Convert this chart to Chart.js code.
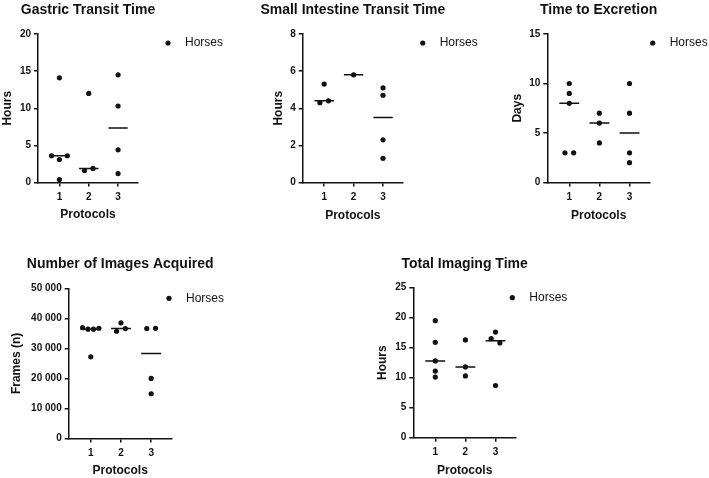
<!DOCTYPE html>
<html>
<head>
<meta charset="utf-8">
<script src="https://cdn.jsdelivr.net/npm/chart.js@4"></script>
<style>
  body { margin: 0; background: #fff; }
  #wrap { position: relative; width: 709px; height: 478px; overflow: hidden; background: #fff; }
  #wrap canvas { position: absolute; }
</style>
</head>
<body>
<div id="wrap"></div>
<script>
// categories (x axis)
const protocols = ['1', '2', '3'];
const seriesLabel = 'Horses';

// values per protocol
const gastricHours = [[14.1, 3.6, 3.1, 3.6, 0.4], [12.0, 1.6, 1.9], [14.5, 10.3, 4.4, 1.2]];
const smallIntestineHours = [[5.3, 4.3, 4.4], [5.8], [5.1, 4.7, 2.3, 1.3]];
const excretionDays = [[10, 9, 8, 3, 3], [7, 6, 4], [10, 7, 3, 2]];
const imageFrames = [[36900, 36400, 36400, 36700, 27200], [38500, 35700, 36600], [36600, 36700, 20000, 14900]];
const imagingHours = [[19.5, 15.9, 12.8, 11.1, 10.1], [16.3, 11.8, 10.3], [17.6, 16.5, 15.8, 8.7]];

// y ticks
const gastricTicks = [0, 5, 10, 15, 20];
const smallIntestineTicks = [0, 2, 4, 6, 8];
const excretionTicks = [0, 5, 10, 15];
const framesTicks = [0, 10000, 20000, 30000, 40000, 50000];
const framesTickLabels = ['0', '10 000', '20 000', '30 000', '40 000', '50 000'];
const imagingTicks = [0, 5, 10, 15, 20, 25];

const FONT = '"Liberation Sans", Arial, Helvetica, sans-serif';
const INK = '#111';

function median(arr) {
  const s = [...arr].sort((a, b) => a - b);
  const m = Math.floor(s.length / 2);
  return s.length % 2 ? s[m] : (s[m - 1] + s[m]) / 2;
}

// spread points that would overlap (Prism style scatter)
function spreadPoints(groups, yMax) {
  const pts = [];
  groups.forEach((vals, gi) => {
    const idx = vals.map((v, i) => i).sort((a, b) => vals[a] - vals[b]);
    const clusters = [];
    idx.forEach(i => {
      const last = clusters[clusters.length - 1];
      if (last && vals[i] - vals[last[last.length - 1]] < yMax * 0.035) last.push(i);
      else clusters.push([i]);
    });
    clusters.forEach(c => {
      c.sort((a, b) => a - b);
      const n = c.length;
      const step = n > 1 ? Math.min(0.29, 0.54 / (n - 1)) : 0;
      c.forEach((i, k) => {
        pts.push({ x: gi + 1 + (k - (n - 1) / 2) * step, y: vals[i] });
      });
    });
  });
  return pts;
}

function medianLines(groups) {
  const out = [];
  groups.forEach((vals, gi) => {
    const m = median(vals);
    out.push({ x: gi + 1 - 0.33, y: m }, { x: gi + 1 + 0.33, y: m }, { x: gi + 1.5, y: null });
  });
  return out;
}

// title centred over the plot area + the "Horses" key on the right
const panelDecor = {
  id: 'panelDecor',
  afterDraw(chart, args, opts) {
    const { ctx, chartArea } = chart;
    ctx.save();
    ctx.fillStyle = INK;
    ctx.font = 'bold 14px ' + FONT;
    ctx.textBaseline = 'middle';
    ctx.textAlign = 'center';
    ctx.fillText(opts.title, (chartArea.left + chartArea.right) / 2, opts.titleY);

    ctx.beginPath();
    ctx.arc(opts.legendX, opts.legendY, 2.6, 0, Math.PI * 2);
    ctx.fill();
    ctx.font = '12px ' + FONT;
    ctx.textAlign = 'left';
    ctx.fillText(chart.data.datasets[0].label, opts.legendX + 17, opts.legendY);
    ctx.restore();
  }
};

// layout of each panel (pixel boxes of the plot area)
const panels = [
  { title: 'Gastric Transit Time', yTitle: 'Hours', groups: gastricHours, ticks: gastricTicks, tickLabels: null,
    L: 38, R: 138, T: 34, B: 182.5, yTitleX: 7.5, titleY: 10.5, xTitleY: 215, legend: [168, 43],
    top: 0, bottom: 228, right: 232 },
  { title: 'Small Intestine Transit Time', yTitle: 'Hours', groups: smallIntestineHours, ticks: smallIntestineTicks, tickLabels: null,
    L: 302.7, R: 403, T: 34, B: 182.5, yTitleX: 278.8, titleY: 10.5, xTitleY: 215.5, legend: [422.7, 43],
    top: 0, bottom: 228, right: 490 },
  { title: 'Time to Excretion', yTitle: 'Days', groups: excretionDays, ticks: excretionTicks, tickLabels: null,
    L: 547.3, R: 650, T: 34, B: 182.5, yTitleX: 518, titleY: 10, xTitleY: 215.5, legend: [652.7, 43],
    top: 0, bottom: 228, right: 709 },
  { title: 'Number of Images Acquired', yTitle: 'Frames (n)', groups: imageFrames, ticks: framesTicks, tickLabels: framesTickLabels,
    L: 68.7, R: 171.7, T: 288.3, B: 438.5, yTitleX: 16.7, titleY: 264.5, xTitleY: 470.2, legend: [169, 298.3],
    top: 250, bottom: 478, right: 240 },
  { title: 'Total Imaging Time', yTitle: 'Hours', groups: imagingHours, ticks: imagingTicks, tickLabels: null,
    L: 413.3, R: 516, T: 287.7, B: 437.7, yTitleX: 382.8, titleY: 264, xTitleY: 470.2, legend: [512.3, 297.7],
    top: 250, bottom: 478, right: 709 }
];

const wrap = document.getElementById('wrap');

panels.forEach(p => {
  const left = Math.floor(Math.min(p.yTitleX - 8, (p.L + p.R) / 2 - 100));
  const width = p.right - left;
  const height = p.bottom - p.top;
  const canvas = document.createElement('canvas');
  canvas.width = width;
  canvas.height = height;
  canvas.style.left = left + 'px';
  canvas.style.top = p.top + 'px';
  canvas.style.width = width + 'px';
  canvas.style.height = height + 'px';
  wrap.appendChild(canvas);

  const yMax = p.ticks[p.ticks.length - 1];
  const yAxisWidth = p.L - left;
  const xAxisHeight = p.bottom - p.B;

  new Chart(canvas.getContext('2d'), {
    data: {
      datasets: [
        {
          type: 'scatter',
          label: seriesLabel,
          data: spreadPoints(p.groups, yMax),
          pointRadius: 2.6,
          pointHoverRadius: 2.6,
          backgroundColor: INK,
          borderWidth: 0
        },
        {
          type: 'line',
          label: 'Median',
          data: medianLines(p.groups),
          borderColor: INK,
          borderWidth: 1.5,
          pointRadius: 0,
          spanGaps: false
        }
      ]
    },
    options: {
      responsive: false,
      animation: false,
      layout: { padding: { left: 0, top: p.T - p.top, bottom: 0, right: p.right - p.R } },
      plugins: {
        legend: { display: false },
        tooltip: { enabled: false },
        title: { display: false },
        panelDecor: {
          title: p.title,
          titleY: p.titleY - p.top,
          legendX: p.legend[0] - left,
          legendY: p.legend[1] - p.top
        }
      },
      scales: {
        x: {
          type: 'linear',
          min: 0.27,
          max: 3.68,
          afterBuildTicks: s => { s.ticks = protocols.map((c, i) => ({ value: i + 1 })); },
          afterFit: s => { s.height = xAxisHeight; },
          ticks: {
            color: INK,
            padding: 5,
            font: { family: FONT, size: 10, weight: 'bold' },
            callback: (v) => protocols[v - 1]
          },
          grid: { drawOnChartArea: false, drawTicks: true, tickLength: 4, color: INK, lineWidth: 1.5 },
          border: { display: true, color: INK, width: 1.5 },
          title: {
            display: true,
            text: 'Protocols',
            color: INK,
            font: { family: FONT, size: 12, weight: 'bold' },
            padding: { top: 0, bottom: p.bottom - p.xTitleY - 7.2 }
          }
        },
        y: {
          type: 'linear',
          min: 0,
          max: yMax,
          afterBuildTicks: s => { s.ticks = p.ticks.map(v => ({ value: v })); },
          afterFit: s => { s.width = yAxisWidth; },
          ticks: {
            color: INK,
            padding: 3,
            font: { family: FONT, size: 10, weight: 'bold' },
            callback: (v, i) => p.tickLabels ? p.tickLabels[i] : String(v)
          },
          grid: { drawOnChartArea: false, drawTicks: true, tickLength: 4, color: INK, lineWidth: 1.5 },
          border: { display: true, color: INK, width: 1.5 },
          title: {
            display: true,
            text: p.yTitle,
            color: INK,
            font: { family: FONT, size: 12, weight: 'bold' },
            padding: { top: p.yTitleX - 7.2 - left, bottom: 0 }
          }
        }
      }
    },
    plugins: [panelDecor]
  });
});
</script>
</body>
</html>
